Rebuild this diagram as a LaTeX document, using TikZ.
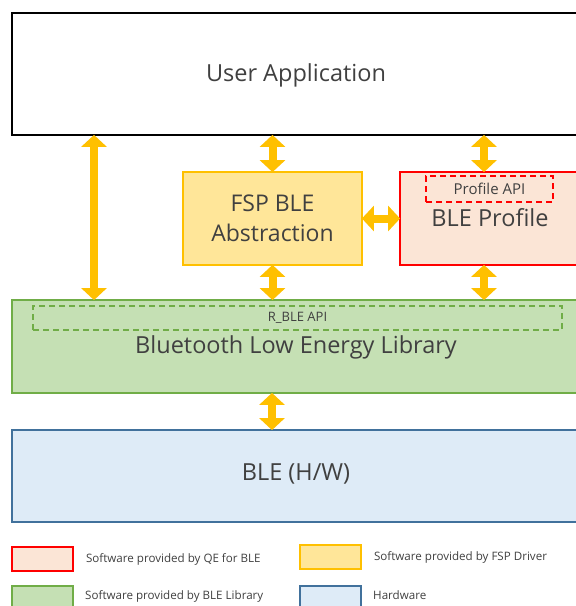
\documentclass[tikz,border=0pt]{standalone}
\usepackage{fontspec}
\setmainfont{Open Sans}
\usepackage{xcolor}
\definecolor{txt}{HTML}{404040}
\definecolor{arrowc}{HTML}{FFC000}
\definecolor{fspfill}{HTML}{FFE699}
\definecolor{qefill}{HTML}{FBE5D6}
\definecolor{qeline}{HTML}{FF0000}
\definecolor{libfill}{HTML}{C5E0B4}
\definecolor{libline}{HTML}{70AD47}
\definecolor{hwfill}{HTML}{DEEBF7}
\definecolor{hwline}{HTML}{41719C}
\usetikzlibrary{arrows.meta, positioning, calc}

\tikzset{
  layer/.style={draw, line width=1.8pt, text=txt, font=\fontsize{23}{27}\selectfont, inner sep=0pt},
  label/.style={text=txt, font=\fontsize{23.5}{27}\selectfont, inner sep=0pt},
  apibox/.style={draw, dashed, line width=1.6pt, dash pattern=on 6pt off 4pt, text=txt, inner sep=0pt},
  biarrow/.style={arrowc, line width=8pt, {Triangle[width=25pt,length=12pt]}-{Triangle[width=25pt,length=12pt]}, shorten <=-1pt, shorten >=-1pt},
  keybox/.style={draw, line width=1.6pt, minimum width=61pt, minimum height=24pt, inner sep=0pt},
  keytext/.style={text=txt, font=\fontsize{11.6}{13}\selectfont, anchor=west, inner sep=0pt}
}

\begin{document}
\begin{tikzpicture}[x=1pt, y=-1pt]
  \clip (0,0) rectangle (576,606);
  \fill[white] (0,0) rectangle (576,606);

  % layers
  \node[layer, draw=black, fill=white, minimum width=568pt, minimum height=122pt] (app) at (296,74) {};
  \node[label] (apptext) at (296,75) {User Application};

  \node[layer, draw=arrowc, fill=fspfill, minimum width=179pt, minimum height=93pt, align=center, font=\fontsize{23}{30}\selectfont] (fsp) at (272.5,218.5) {FSP BLE\\Abstraction};

  \node[layer, draw=qeline, fill=qefill, minimum width=190pt, minimum height=93pt] (prof) at (495,218.5) {};
  \node[apibox, draw=qeline, minimum width=127pt, minimum height=26pt, font=\fontsize{15}{17}\selectfont] (profapi) at (489.5,189) {Profile API};
  \node[label] (proftext) at (490,218) {BLE Profile};

  \node[layer, draw=libline, fill=libfill, minimum width=568pt, minimum height=93pt] (lib) at (296,346.5) {};
  \node[apibox, draw=libline, minimum width=529pt, minimum height=24pt, font=\fontsize{13}{15}\selectfont] (rbleapi) at (297.5,318) {R\_BLE API};
  \node[label] (libtext) at (296,347) {Bluetooth Low Energy Library};

  \node[layer, draw=hwline, fill=hwfill, minimum width=568pt, minimum height=92pt] (hw) at (296,476) {};
  \node[label] (hwtext) at (296,474) {BLE (H/W)};

  % connectors
  \draw[biarrow] (app.south -| 94,0) -- (lib.north -| 94,0);
  \draw[biarrow] (app.south -| fsp.north) -- (fsp.north);
  \draw[biarrow] (fsp.south) -- (lib.north -| fsp.south);
  \draw[biarrow] (app.south -| 484,0) -- (prof.north -| 484,0);
  \draw[biarrow] (prof.south -| 484,0) -- (lib.north -| 484,0);
  \draw[biarrow] (fsp.east) -- (fsp.east -| prof.west);
  \draw[biarrow] (lib.south -| 272,0) -- (hw.north -| 272,0);

  % legend
  \node[keybox, draw=qeline, fill=qefill] (keyqe) at (42.5,559) {};
  \node[keytext, right=12pt of keyqe] {Software provided by QE for BLE};
  \node[keybox, draw=arrowc, fill=fspfill] (keyfsp) at (330.5,557) {};
  \node[keytext, right=12pt of keyfsp] {Software provided by FSP Driver};
  \node[keybox, draw=libline, fill=libfill] (keylib) at (42.5,598) {};
  \node[keytext] at (85,596.5) {Software provided by BLE Library};
  \node[keybox, draw=hwline, fill=hwfill] (keyhw) at (330.5,598) {};
  \node[keytext] at (373,595.5) {Hardware};
\end{tikzpicture}
\end{document}
